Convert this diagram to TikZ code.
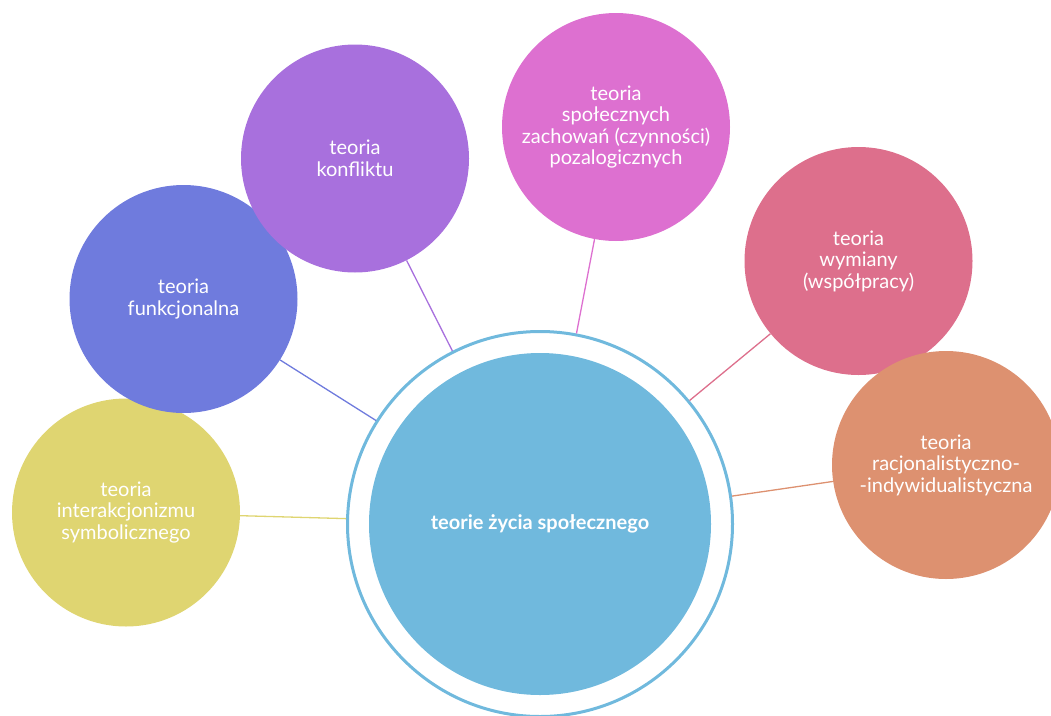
\documentclass[tikz,border=0pt]{standalone}
\usepackage{fontspec}
\setmainfont{Lato}
\definecolor{cyel}{HTML}{DFD571}
\definecolor{cblu}{HTML}{6F7BDD}
\definecolor{cpur}{HTML}{A870DD}
\definecolor{cmag}{HTML}{DD70D0}
\definecolor{cros}{HTML}{DD6F8C}
\definecolor{cora}{HTML}{DD9170}
\definecolor{ccen}{HTML}{70B9DD}
\tikzset{
  sat/.style={circle, inner sep=0pt, minimum size=228pt, fill=#1, text=white,
    align=center, font=\fontsize{20}{21.5}\selectfont},
  link/.style={line width=1.3pt, draw=#1},
}
\begin{document}
\begin{tikzpicture}[x=1pt,y=-1pt]
\useasboundingbox (0,0) rectangle (1051,715);
% central
\node[circle, inner sep=0pt, minimum size=342pt, fill=ccen, text=white,
  font=\fontsize{20}{21.5}\selectfont\bfseries] (core) at (540,524) {teorie życia społecznego};
\node[circle, inner sep=0pt, minimum size=385pt, draw=ccen, line width=3pt] (ring) at (540,524) {};
% satellites
\node[sat=cyel] (s1) at (126,512.5) {teoria\\interakcjonizmu\\symbolicznego};
\node[sat=cblu] (s2) at (183.5,299) {teoria\\funkcjonalna};
\node[sat=cpur] (s3) at (355,158.5) {teoria\\konfliktu};
\node[sat=cmag] (s4) at (616,127) {teoria\\społecznych\\zachowań (czynności)\\pozalogicznych};
\node[sat=cros] (s5) at (858.5,261) {teoria\\wymiany\\(współpracy)};
\node[sat=cora] (s6) at (946,465) {teoria\\racjonalistyczno-\\-indywidualistyczna};
% connectors
\draw[link=cyel] (s1) -- (ring);
\draw[link=cblu] (s2) -- (ring);
\draw[link=cpur] (s3) -- (ring);
\draw[link=cmag] (s4) -- (ring);
\draw[link=cros] (s5) -- (ring);
\draw[link=cora] (s6) -- (ring);
\end{tikzpicture}
\end{document}
